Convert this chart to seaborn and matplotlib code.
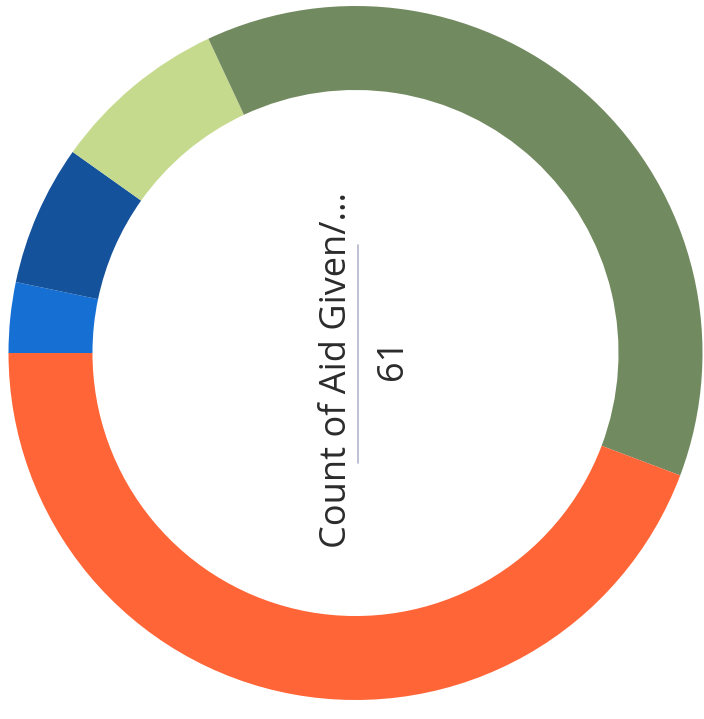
import matplotlib
matplotlib.use("Agg")
import matplotlib.pyplot as plt
import seaborn as sns

# Aid given, count per category (total 61)
categories = ["Category E", "Category D", "Category C", "Category B", "Category A"]
counts = [2, 4, 5, 23, 27]
colors = ["#1670d4", "#14529b", "#c6da8e", "#728a60", "#ff6536"]
center_label = "Count of Aid Given/..."
total = sum(counts)

sns.set_theme(style="white")
plt.rcParams["font.family"] = ["Open Sans", "DejaVu Sans"]

fig = plt.figure(figsize=(7.04, 7.19), dpi=100)
fig.patch.set_facecolor("white")
ax = fig.add_axes([8.5 / 704, 19 / 719, 694 / 704, 694 / 719])

ax.pie(
    counts,
    colors=colors,
    startangle=180,
    counterclock=False,
    radius=1.0,
    wedgeprops=dict(width=0.242, linewidth=0),
)

# Center label, rotated to read bottom-to-top
ax.text(-0.052, -0.048, center_label, rotation=90, ha="center", va="center",
        fontsize=26, color="#2b2b2b")
ax.plot([0.007, 0.007], [-0.317, 0.311], color="#b3b6cc", linewidth=1.2)
ax.text(0.108, -0.017, str(total), rotation=90, ha="center", va="center",
        fontsize=26, color="#2b2b2b")

ax.set_xlim(-1, 1)
ax.set_ylim(-1, 1)
ax.set_aspect("equal")
ax.axis("off")

fig.savefig("out.png", dpi=100, facecolor="white")
